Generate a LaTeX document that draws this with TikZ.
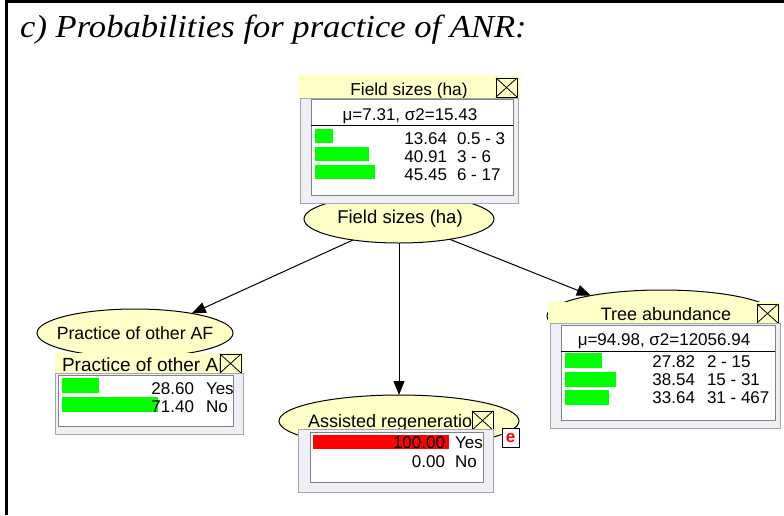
\documentclass[tikz,border=0pt]{standalone}
\usepackage{fontspec}
\usetikzlibrary{shapes.geometric,arrows.meta}
\newfontfamily\uifont{Liberation Sans}
\newfontfamily\capfont{Liberation Serif}
\definecolor{nodeyellow}{RGB}{255,255,200}
\definecolor{panelgray}{RGB}{238,240,246}
\definecolor{paneledge}{RGB}{165,165,172}
\definecolor{framegray}{RGB}{130,130,130}
\definecolor{bargreen}{RGB}{0,255,0}
\definecolor{barred}{RGB}{255,0,0}

\newcommand\uisize[1]{\uifont\fontsize{#1}{#1}\selectfont}

\tikzset{
  ui/.style={font=\uisize{17}, inner sep=0pt, outer sep=0pt},
  nodeoval/.style={ellipse, draw=black, line width=1pt, fill=nodeyellow,
    inner sep=0pt, outer sep=0pt},
  titlebar/.style={fill=nodeyellow},
  panel/.style={fill=panelgray, draw=paneledge, line width=1pt},
  innerbox/.style={fill=white, draw=framegray, line width=1pt},
  closebox/.style={draw=black, line width=0.8pt},
  link/.style={draw=black, line width=1pt, -{Triangle[length=14pt,width=11pt]}},
  num/.style={ui, anchor=base east},
  statename/.style={ui, anchor=base west},
  greenbar/.style={fill=bargreen},
  xbox/.pic={
    \draw[closebox] (0,0) rectangle (21,19);
    \draw[closebox] (0,0) -- (21,19) (21,0) -- (0,19);
  },
}

\begin{document}
\begin{tikzpicture}[x=1pt,y=-1pt]
\useasboundingbox (0,0) rectangle (784,515);

% frame and caption
\draw[line width=2.6pt] (6.2,515) -- (6.2,1.3) -- (784,1.3);
\node[anchor=base west, inner sep=0pt,
  font=\capfont\itshape\fontsize{32}{36}\selectfont] (caption) at (20,37)
  {\scalebox{1.08}[1]{c) Probabilities for practice of ANR:}};

% ---- network ovals ----
\node[nodeoval, minimum width=190pt, minimum height=48pt] (fs) at (399,219) {};
\node[ui, font=\uisize{18.5}, anchor=base] (fslabel) at (400,223) {Field sizes (ha)};

\node[nodeoval, minimum width=196pt, minimum height=48pt] (pr) at (135,333) {};
\node[ui, font=\uisize{17.7}, anchor=base] (prlabel) at (135,339) {Practice of other AF};

\node[nodeoval, minimum width=240pt, minimum height=52pt] (ar) at (399,421) {};

\node[nodeoval, minimum width=230pt, minimum height=52pt] (tr) at (662,316) {};

% ---- links ----
\draw[link] (fs) -- (pr.19);
\draw[link] (fs) -- (ar);
\draw[link] (fs) -- (tr.164);

% ---- Field sizes monitor ----
\fill[titlebar] (298,75) rectangle (520,98);
\node[ui, font=\uisize{17.3}, anchor=base] (fstitle) at (409,95) {Field sizes (ha)};
\pic at (496,78) {xbox};
\draw[panel] (300,98) rectangle (518,203);
\draw[innerbox] (311,99) rectangle (513,195);
\node[ui, anchor=base] (fsstats) at (410,120) {μ=7.31, σ2=15.43};
\draw[black, line width=1pt] (311,125) -- (513,125);
\fill[greenbar] (315,129) rectangle ++(18,14);
\fill[greenbar] (315,147) rectangle ++(54,14);
\fill[greenbar] (315,165) rectangle ++(60,14);
\node[num] (fsp1) at (447,144) {13.64};
\node[num] (fsp2) at (447,162) {40.91};
\node[num] (fsp3) at (447,180) {45.45};
\node[statename] (fss1) at (457,144) {0.5 - 3};
\node[statename] (fss2) at (457,162) {3 - 6};
\node[statename] (fss3) at (457,180) {6 - 17};

% ---- Practice of other AF monitor ----
\fill[titlebar] (55,353) rectangle (243,373);
\begin{scope}
  \clip (55,350) rectangle (220,376);
  \node[statename, font=\uisize{19}] (prtitle) at (62,371) {Practice of other AF};
\end{scope}
\pic at (220,354) {xbox};
\draw[panel] (55,373) rectangle (243,434);
\draw[innerbox] (58,375) rectangle (233,426);
\fill[greenbar] (62,378) rectangle ++(37,15);
\fill[greenbar] (62,397) rectangle ++(96,15);
\node[num] (prp1) at (194,394) {28.60};
\node[num] (prp2) at (194,412) {71.40};
\node[statename] (prs1) at (206,394) {Yes};
\node[statename] (prs2) at (206,412) {No};

% ---- Assisted regeneration monitor (finding entered) ----
\begin{scope}
  \clip (300,405) rectangle (472,432);
  \node[statename, font=\uisize{18}] (artitle) at (308,427) {Assisted regeneration};
\end{scope}
\pic at (472,411) {xbox};
\draw[panel] (298,429) rectangle (493,492);
\draw[innerbox] (310,432) rectangle (483,482);
\fill[barred] (313,435) rectangle (449,449);
\node[num] (arp1) at (445,448) {100.00};
\node[num] (arp2) at (445,467) {0.00};
\node[statename] (ars1) at (455,448) {Yes};
\node[statename] (ars2) at (455,467) {No};
\node[draw=black, line width=1pt, fill=white, minimum width=17pt, minimum height=19pt,
  inner sep=0pt, text=barred, font=\uifont\bfseries\fontsize{17}{17}\selectfont]
  (evidence) at (510.5,437.5) {e};

% ---- Tree abundance monitor ----
\fill[titlebar] (548,302) rectangle (780,323);
\node[ui, font=\uisize{18}, anchor=base] (trtitle) at (666,320) {Tree abundance};
\pic at (757,304) {xbox};
\draw[panel] (550,323) rectangle (780,428);
\draw[innerbox] (561,325) rectangle (775,420);
\node[ui, anchor=base] (trstats) at (664,345) {μ=94.98, σ2=12056.94};
\draw[black, line width=1pt] (561,351) -- (775,351);
\fill[greenbar] (565,353) rectangle ++(37,15);
\fill[greenbar] (565,372) rectangle ++(51,15);
\fill[greenbar] (565,390) rectangle ++(44,15);
\node[num] (trp1) at (695,367) {27.82};
\node[num] (trp2) at (695,385) {38.54};
\node[num] (trp3) at (695,403) {33.64};
\node[statename] (trs1) at (707,367) {2 - 15};
\node[statename] (trs2) at (707,385) {15 - 31};
\node[statename] (trs3) at (707,403) {31 - 467};
\end{tikzpicture}
\end{document}
